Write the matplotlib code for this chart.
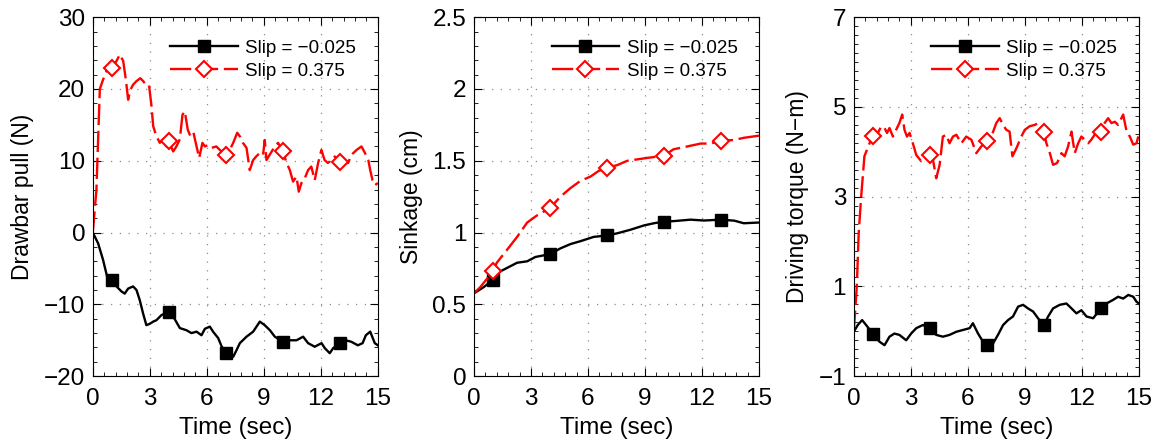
import numpy as np
import matplotlib
matplotlib.use("Agg")
from matplotlib import pyplot as plt
from matplotlib.ticker import MultipleLocator, FuncFormatter

plt.rcParams['font.family'] = ['Liberation Sans', 'DejaVu Sans']

mark_times = [1.0, 4.0, 7.0, 10.0, 13.0]
labels = ["Slip = \u22120.025", "Slip = 0.375"]

# drawbar pull (N)
dp_t_slow = [0, 0.28, 0.54, 0.75, 1.0, 1.25, 1.51, 1.68, 1.86, 2.12, 2.3, 2.47, 2.65, 2.82, 3.0,
             3.18, 3.35, 3.61, 4.0, 4.3, 4.58, 4.93, 5.19, 5.46, 5.72, 5.9, 6.16, 6.33, 6.6, 6.77,
             7.0, 7.39, 7.56, 7.74, 8.09, 8.44, 8.79, 9.05, 9.32, 9.58, 10.0, 10.37, 10.72, 11.07, 11.33,
             11.68, 12.04, 12.21, 12.47, 12.65, 13.0, 13.3, 13.6, 13.95, 14.2, 14.37, 14.6, 14.84, 15.0]
dp_slow = [0, -1.5, -3.8, -6.1, -6.6, -7.5, -8.2, -8.5, -7.8, -7.5, -8.0, -9.4, -11.3, -12.9, -12.7,
           -12.4, -12.2, -11.5, -11.0, -12.0, -13.3, -13.6, -14.0, -13.8, -14.3, -13.4, -13.1, -13.8, -14.7, -15.8,
           -16.8, -17.3, -16.4, -15.4, -14.5, -13.8, -12.4, -12.9, -13.6, -14.5, -15.2, -15.0, -15.0, -14.5, -15.4,
           -15.9, -15.4, -16.1, -16.8, -16.1, -15.4, -15.0, -15.2, -15.7, -15.4, -14.3, -13.8, -15.4, -15.7]
dp_t_fast = [0, 0.19, 0.37, 0.54, 0.72, 1.0, 1.25, 1.42, 1.6, 1.74, 1.86, 1.98, 2.12, 2.3, 2.5,
             2.65, 2.82, 2.96, 3.09, 3.18, 3.35, 3.53, 3.7, 3.88, 4.0, 4.23, 4.4, 4.58, 4.72, 4.84,
             5.0, 5.14, 5.3, 5.46, 5.6, 5.77, 5.9, 6.07, 6.25, 6.5, 6.77, 7.0, 7.2, 7.39, 7.6,
             7.74, 7.9, 8.09, 8.26, 8.44, 8.6, 8.79, 8.96, 9.05, 9.14, 9.3, 9.58, 9.75, 10.0, 10.2,
             10.37, 10.54, 10.72, 10.84, 10.98, 11.16, 11.33, 11.5, 11.68, 11.86, 12.03, 12.2, 12.37, 12.56, 12.74,
             13.0, 13.18, 13.44, 13.6, 13.88, 14.14, 14.32, 14.5, 14.6, 14.72, 14.84, 15.0]
dp_fast = [0, 5.9, 20.0, 21.3, 22.5, 22.9, 23.9, 24.8, 23.9, 21.3, 18.5, 19.9, 20.6, 21.1, 21.5,
           21.1, 20.5, 20.5, 17.6, 14.8, 13.4, 12.5, 13.0, 12.0, 12.7, 11.3, 12.0, 13.0, 16.4, 16.9,
           14.3, 13.4, 13.9, 12.0, 10.4, 12.5, 12.0, 12.2, 11.8, 12.0, 11.3, 10.8, 11.5, 12.5, 13.9,
           13.4, 12.5, 11.8, 8.7, 10.1, 10.6, 11.1, 10.8, 12.9, 10.1, 10.8, 12.0, 12.5, 11.3, 9.7,
           8.7, 7.1, 7.8, 5.7, 6.9, 7.6, 8.7, 9.2, 7.3, 9.7, 11.5, 10.1, 9.7, 10.1, 10.6,
           9.9, 9.7, 9.7, 10.8, 11.5, 12.0, 11.1, 10.1, 8.7, 7.3, 6.6, 6.9]

# sinkage (cm)
sk_t_slow = [0, 0.51, 1.0, 1.39, 1.83, 2.27, 2.8, 3.23, 4.0, 4.55, 5.08, 5.6, 6.3, 7.0, 7.54,
             8.24, 8.95, 9.47, 10.0, 10.53, 11.4, 12.1, 13.0, 13.7, 14.2, 15.0]
sk_slow = [0.577, 0.62, 0.67, 0.73, 0.76, 0.79, 0.80, 0.83, 0.85, 0.89, 0.92, 0.94, 0.97, 0.98, 0.995,
           1.02, 1.05, 1.065, 1.077, 1.08, 1.09, 1.084, 1.09, 1.083, 1.065, 1.07]
sk_t_fast = [0, 0.33, 1.0, 1.2, 1.74, 2.27, 2.8, 3.32, 4.0, 4.55, 5.08, 5.6, 6.13, 6.57, 7.0,
             7.54, 8.07, 8.6, 9.12, 10.0, 10.5, 11.23, 11.93, 12.46, 13.0, 13.7, 14.2, 15.0]
sk_fast = [0.577, 0.62, 0.73, 0.79, 0.88, 0.97, 1.07, 1.12, 1.17, 1.25, 1.31, 1.36, 1.39, 1.43, 1.45,
           1.47, 1.50, 1.51, 1.52, 1.535, 1.58, 1.60, 1.62, 1.62, 1.64, 1.645, 1.66, 1.675]

# driving torque (N-m)
tq_t_slow = [0, 0.21, 0.44, 0.65, 1.0, 1.35, 1.62, 1.88, 2.14, 2.4, 2.76, 3.02, 3.29, 3.64, 4.0,
             4.34, 4.69, 5.04, 5.4, 5.75, 6.1, 6.27, 6.54, 6.8, 7.0, 7.33, 7.59, 7.86, 8.12, 8.38,
             8.65, 8.91, 9.17, 9.44, 9.7, 10.0, 10.23, 10.49, 10.84, 11.19, 11.46, 11.72, 11.98, 12.25, 12.6,
             13.0, 13.3, 13.65, 13.91, 14.18, 14.45, 14.71, 14.88, 15.0]
tq_slow = [-0.01, 0.14, 0.25, 0.14, -0.05, -0.23, -0.31, -0.12, -0.05, -0.08, -0.2, -0.05, 0.07, 0.14, 0.07,
           -0.08, -0.12, -0.08, -0.01, 0.03, 0.07, 0.18, -0.05, -0.23, -0.31, -0.27, -0.08, 0.14, 0.25, 0.33,
           0.55, 0.59, 0.51, 0.44, 0.29, 0.14, 0.33, 0.51, 0.59, 0.62, 0.51, 0.4, 0.47, 0.33, 0.29,
           0.51, 0.62, 0.7, 0.77, 0.73, 0.81, 0.77, 0.66, 0.62]
tq_t_fast = [0, 0.16, 0.26, 0.39, 0.56, 0.83, 1.0, 1.27, 1.45, 1.62, 1.75, 1.88, 2.06, 2.23, 2.4,
             2.55, 2.67, 2.8, 2.94, 3.11, 3.29, 3.55, 3.72, 4.0, 4.17, 4.34, 4.52, 4.69, 4.87, 5.04,
             5.22, 5.4, 5.66, 5.92, 6.19, 6.45, 6.71, 7.0, 7.24, 7.5, 7.68, 7.86, 8.03, 8.2, 8.35,
             8.56, 8.82, 9.0, 9.26, 9.53, 9.7, 10.0, 10.14, 10.32, 10.49, 10.7, 10.93, 11.1, 11.28, 11.46,
             11.63, 11.81, 11.98, 12.16, 12.34, 12.5, 12.74, 13.0, 13.2, 13.39, 13.56, 13.74, 13.91, 14.18, 14.36,
             14.53, 14.71, 14.88, 15.0]
tq_fast = [-0.01, 1.0, 2.19, 3.0, 3.9, 4.19, 4.36, 4.42, 4.57, 4.53, 4.42, 4.53, 4.34, 4.49, 4.64,
           4.83, 4.49, 4.34, 4.42, 4.19, 3.93, 3.79, 3.9, 3.93, 3.82, 3.41, 3.71, 4.34, 4.38, 4.19,
           4.34, 4.38, 4.19, 4.34, 4.27, 3.97, 4.12, 4.23, 4.34, 4.64, 4.75, 4.6, 4.49, 4.45, 3.9,
           4.08, 4.34, 4.49, 4.57, 4.6, 4.64, 4.45, 4.19, 3.97, 3.71, 3.75, 3.97, 3.9, 4.12, 4.45,
           3.97, 4.19, 4.34, 4.27, 4.19, 4.27, 4.42, 4.45, 4.64, 4.75, 4.64, 4.67, 4.6, 4.83, 4.45,
           4.34, 4.16, 4.19, 4.38]

panels = [
    (dp_t_slow, dp_slow, dp_t_fast, dp_fast, "Drawbar pull (N)", (-20, 30), [-20, -10, 0, 10, 20, 30], 2),
    (sk_t_slow, sk_slow, sk_t_fast, sk_fast, "Sinkage (cm)", (0, 2.5), [0, 0.5, 1, 1.5, 2, 2.5], 0.1),
    (tq_t_slow, tq_slow, tq_t_fast, tq_fast, "Driving torque (N\u2212m)", (-1, 7), [-1, 1, 3, 5, 7], 0.2),
]
lefts = [0.080, 0.4086, 0.736]


def mark_idx(t):
    return [i for i, x in enumerate(t) if x in mark_times]


def fmt(v, pos):
    return f"{v:g}".replace("-", "\u2212")


fig = plt.figure(figsize=(11.6, 4.41), dpi=100)

for left, (ts, ys, tf, yf, ylabel, ylim, yticks, minor) in zip(lefts, panels):
    ax = fig.add_axes([left, 0.147, 0.2457, 0.814])
    ax.plot(ts, ys, color="black", lw=1.7, marker="s", ms=8, mfc="black", mec="black",
            markevery=mark_idx(ts), label=labels[0])
    ax.plot(tf, yf, color="red", lw=1.7, dashes=(9, 2.4), marker="D", ms=8, mfc="white",
            mec="red", mew=1.5, markevery=mark_idx(tf), label=labels[1])
    ax.set_xlim(0, 15)
    ax.set_ylim(*ylim)
    ax.xaxis.set_major_locator(MultipleLocator(3))
    ax.xaxis.set_minor_locator(MultipleLocator(0.6))
    ax.set_yticks(yticks)
    ax.yaxis.set_major_formatter(FuncFormatter(fmt))
    ax.yaxis.set_minor_locator(MultipleLocator(minor))
    ax.tick_params(which="both", direction="in", top=True, right=True, labelsize=17.5)
    ax.tick_params(which="major", length=6)
    ax.tick_params(which="minor", length=3)
    ax.tick_params(axis="x", which="major", pad=8.5)
    ax.tick_params(axis="y", which="major", pad=5.5)
    ax.grid(True, which="major", color="0.55", linestyle=(0, (1, 6)), linewidth=0.9)
    ax.set_xlabel("Time (sec)", fontsize=17.5, labelpad=5)
    ax.set_ylabel(ylabel, fontsize=16.5, labelpad=7)
    ax.legend(loc="upper right", frameon=False, fontsize=13.5, handlelength=3.6,
              borderaxespad=0.9, labelspacing=0.3, handletextpad=0.4,
              bbox_to_anchor=(1.01, 1.005))

fig.savefig("out.png", dpi=100)
